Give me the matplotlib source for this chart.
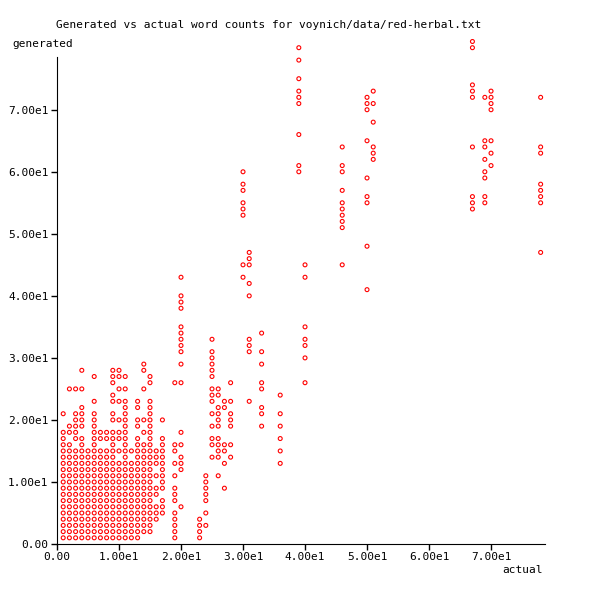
import matplotlib
matplotlib.use("Agg")
import matplotlib.pyplot as plt

# actual word count -> generated word counts seen for it
col_x = [1, 2, 3, 4, 5, 6, 7, 8, 9, 10,
         11, 12, 13, 14, 15, 16, 17, 19, 20, 23,
         24, 25, 26, 27, 28, 30, 31, 33, 36, 39,
         40, 46, 50, 51, 67, 69, 70, 78]
col_y = [
    [1, 2, 3, 4, 5, 6, 7, 8, 9, 10, 11, 12, 13, 14, 15, 16, 17, 18, 21],
    [1, 2, 3, 4, 5, 6, 7, 8, 9, 10, 11, 12, 13, 14, 15, 16, 18, 19, 25],
    [1, 2, 3, 4, 5, 6, 7, 8, 9, 10, 11, 12, 13, 14, 15, 17, 18, 19, 20, 21, 25],
    [1, 2, 3, 4, 5, 6, 7, 8, 9, 10, 11, 12, 13, 14, 15, 16, 17, 19, 20, 21, 22, 25, 28],
    [1, 2, 3, 4, 5, 6, 7, 8, 9, 10, 11, 12, 13, 14, 15],
    [1, 2, 3, 4, 5, 6, 7, 8, 9, 10, 11, 12, 13, 14, 15, 16, 17, 18, 19, 20, 21, 23, 27],
    [1, 2, 3, 4, 5, 6, 7, 8, 9, 10, 11, 12, 13, 14, 15, 17, 18],
    [1, 2, 3, 4, 5, 6, 7, 8, 9, 10, 11, 12, 13, 14, 15, 17, 18],
    [1, 2, 3, 4, 5, 6, 7, 8, 9, 10, 11, 12, 13, 14, 15, 16, 17, 18, 20, 21, 23, 24, 26, 27, 28],
    [1, 2, 3, 4, 5, 6, 7, 8, 9, 10, 11, 12, 13, 15, 17, 18, 20, 23, 25, 27, 28],
    [1, 2, 3, 4, 5, 6, 7, 8, 9, 10, 11, 12, 13, 14, 15, 16, 17, 18, 19, 20, 21, 22, 23, 25, 27],
    [1, 2, 3, 4, 5, 6, 7, 8, 9, 10, 11, 12, 13, 15],
    [1, 2, 3, 4, 5, 6, 7, 8, 9, 10, 11, 12, 13, 14, 15, 16, 17, 19, 20, 22, 23],
    [2, 3, 4, 5, 6, 7, 8, 9, 10, 11, 12, 13, 14, 15, 16, 18, 20, 25, 28, 29],
    [2, 3, 4, 5, 6, 7, 8, 9, 10, 11, 12, 13, 14, 15, 16, 17, 18, 19, 20, 21, 22, 23, 26, 27],
    [4, 5, 6, 8, 9, 11, 13, 14, 15],
    [5, 6, 7, 9, 10, 11, 12, 13, 14, 15, 16, 17, 20],
    [1, 2, 3, 4, 5, 7, 8, 9, 11, 13, 15, 16, 26],
    [6, 12, 13, 14, 16, 18, 26, 29, 31, 32, 33, 34, 35, 38, 39, 40, 43],
    [1, 2, 3, 4],
    [3, 5, 7, 8, 9, 10, 11],
    [14, 16, 17, 19, 21, 23, 24, 25, 27, 28, 29, 30, 31, 33],
    [11, 14, 15, 16, 17, 19, 20, 21, 22, 24, 25],
    [9, 13, 15, 16, 22, 23],
    [14, 16, 19, 20, 21, 23, 26],
    [43, 45, 53, 54, 55, 57, 58, 60],
    [23, 31, 32, 33, 40, 42, 45, 46, 47],
    [19, 21, 22, 25, 26, 29, 31, 34],
    [13, 15, 17, 19, 21, 24],
    [60, 61, 66, 71, 72, 73, 75, 78, 80],
    [26, 30, 32, 33, 35, 43, 45],
    [45, 51, 52, 53, 54, 55, 57, 60, 61, 64],
    [41, 48, 55, 56, 59, 65, 70, 71, 72],
    [62, 63, 64, 68, 71, 73],
    [54, 55, 56, 64, 72, 73, 74, 80, 81],
    [55, 56, 59, 60, 62, 64, 65, 72],
    [61, 63, 65, 70, 71, 72, 73],
    [47, 55, 56, 57, 58, 63, 64, 72],
]
x_ticks = [0, 10, 20, 30, 40, 50, 60, 70]
y_ticks = [0, 10, 20, 30, 40, 50, 60, 70]

xs, ys = [], []
for x, yv in zip(col_x, col_y):
    xs.extend([x] * len(yv))
    ys.extend(yv)

plt.rcParams["font.family"] = ["DejaVu Sans Mono"]

fig = plt.figure(figsize=(6, 6), dpi=100)
ax = fig.add_axes([0.095, 0.0933, 0.8133, 0.8117])
ax.scatter(xs, ys, s=8, facecolors="none", edgecolors="red", linewidths=0.8, clip_on=False)

ax.set_xlim(0, 78.7)
ax.set_ylim(0, 78.5)
ax.set_xticks(x_ticks)
ax.set_yticks(y_ticks)
ax.set_xticklabels(["0.00" if t == 0 else f"{t / 10:.2f}e1" for t in x_ticks], fontsize=8)
ax.set_yticklabels(["0.00" if t == 0 else f"{t / 10:.2f}e1" for t in y_ticks], fontsize=8)
ax.tick_params(length=4, width=1, pad=2)
for s in ("top", "right"):
    ax.spines[s].set_visible(False)

fig.text(0.093, 0.953, "Generated vs actual word counts for voynich/data/red-herbal.txt",
         fontsize=8, ha="left")
fig.text(0.02, 0.935, "generated", fontsize=8, ha="left", va="top")
fig.text(0.905, 0.045, "actual", fontsize=8, ha="right")

plt.savefig("out.png", dpi=100)
